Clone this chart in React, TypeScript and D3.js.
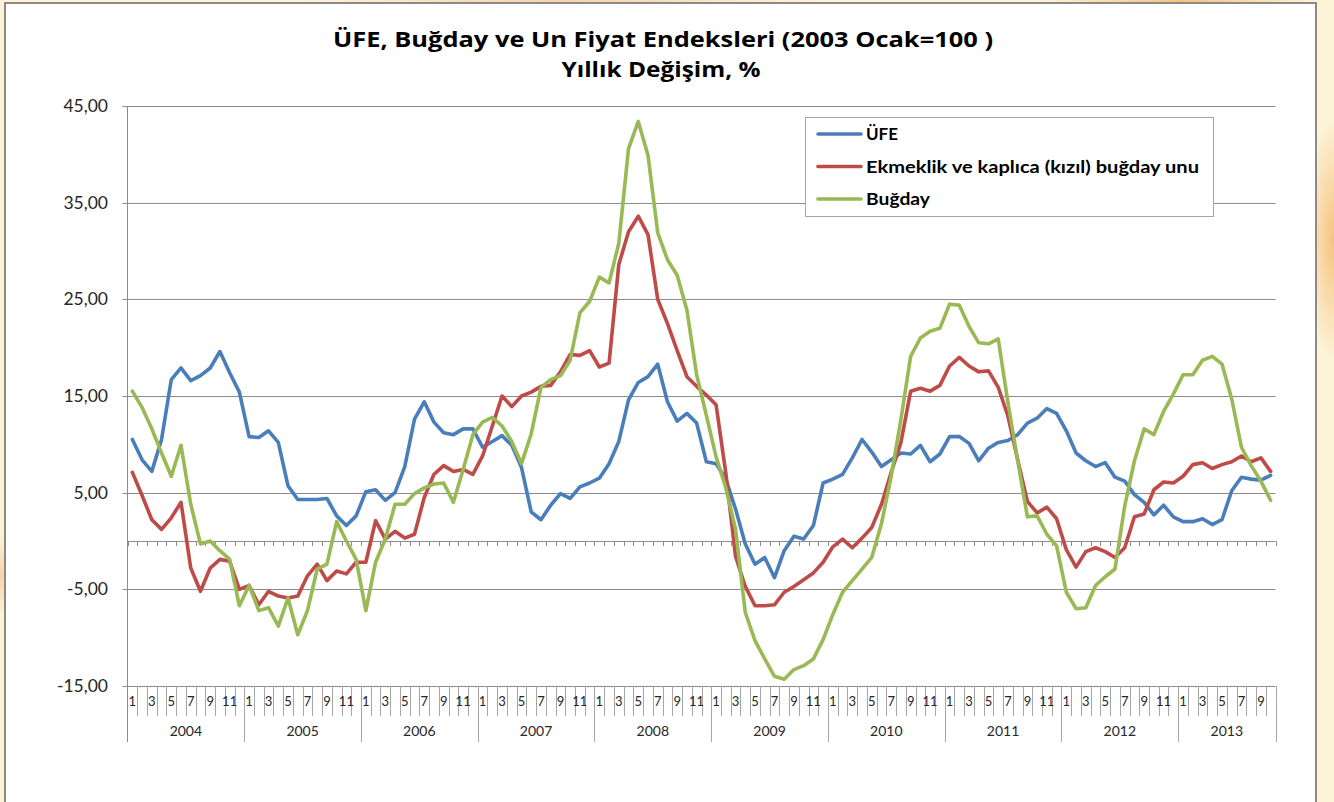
import React from 'react';
import * as d3 from 'd3';

// Yıllık değişim (%), 2004 Ocak - 2013 Ekim
const yearLabels = ['2004', '2005', '2006', '2007', '2008', '2009', '2010', '2011', '2012', '2013'];
const monthLabels = ['1', '', '3', '', '5', '', '7', '', '9', '', '11', ''];
const yTicks = [45, 35, 25, 15, 5, -5, -15];

const ufe = [
  10.5, 8.4, 7.2, 10.5, 16.7, 17.9, 16.6, 17.1, 17.9, 19.6, 17.4, 15.4,
  10.8, 10.7, 11.4, 10.2, 5.7, 4.3, 4.3, 4.3, 4.4, 2.6, 1.6, 2.6,
  5.1, 5.3, 4.2, 5.0, 7.7, 12.6, 14.4, 12.3, 11.2, 11.0, 11.6, 11.6,
  9.7, 10.3, 10.9, 9.9, 7.6, 3.0, 2.2, 3.7, 4.9, 4.4, 5.6, 6.0,
  6.5, 8.0, 10.3, 14.6, 16.4, 17.0, 18.3, 14.4, 12.4, 13.2, 12.2, 8.2,
  8.0, 6.4, 3.3, -0.3, -2.4, -1.7, -3.8, -1.0, 0.5, 0.2, 1.6, 6.0,
  6.4, 6.9, 8.6, 10.5, 9.2, 7.7, 8.4, 9.1, 9.0, 9.9, 8.2, 9.0,
  10.8, 10.8, 10.1, 8.3, 9.6, 10.2, 10.4, 11.0, 12.2, 12.7, 13.7, 13.2,
  11.4, 9.1, 8.3, 7.7, 8.1, 6.6, 6.2, 4.8, 4.0, 2.7, 3.7, 2.5,
  2.0, 2.0, 2.3, 1.7, 2.2, 5.2, 6.6, 6.4, 6.3, 6.8,
];

const un = [
  7.1, 4.7, 2.2, 1.2, 2.4, 4.0, -2.8, -5.2, -2.8, -1.9, -2.1, -5.0,
  -4.6, -6.6, -5.2, -5.7, -5.9, -5.7, -3.6, -2.4, -4.1, -3.1, -3.4, -2.2,
  -2.2, 2.1, 0.2, 1.0, 0.3, 0.7, 4.5, 6.9, 7.8, 7.2, 7.4, 6.9,
  8.8, 11.9, 15.0, 13.9, 15.0, 15.4, 16.0, 16.1, 17.5, 19.3, 19.2, 19.7,
  18.0, 18.4, 28.6, 32.0, 33.6, 31.7, 25.0, 22.5, 19.7, 17.0, 16.0, 15.1,
  14.1, 7.0, -1.6, -4.7, -6.7, -6.7, -6.6, -5.3, -4.7, -4.0, -3.3, -2.2,
  -0.6, 0.2, -0.7, 0.3, 1.4, 3.8, 7.1, 10.2, 15.5, 15.8, 15.5, 16.1,
  18.1, 19.0, 18.1, 17.5, 17.6, 15.9, 12.9, 8.4, 4.1, 2.9, 3.5, 2.3,
  -0.9, -2.7, -1.1, -0.7, -1.1, -1.7, -0.7, 2.5, 2.8, 5.3, 6.1, 6.0,
  6.7, 7.9, 8.1, 7.5, 7.9, 8.2, 8.8, 8.2, 8.6, 7.2,
];

const bugday = [
  15.5, 13.8, 11.6, 9.1, 6.7, 9.9, 3.8, -0.3, 0.0, -1.0, -1.9, -6.7,
  -4.6, -7.2, -6.9, -8.8, -5.9, -9.7, -7.2, -2.9, -2.4, 2.0, 0.0, -1.9,
  -7.2, -2.2, 0.2, 3.8, 3.8, 4.9, 5.5, 5.9, 6.0, 4.0, 7.4, 11.0,
  12.3, 12.8, 11.9, 10.3, 8.0, 11.1, 15.9, 16.7, 17.1, 18.7, 23.6, 24.8,
  27.3, 26.7, 30.8, 40.6, 43.4, 39.9, 31.9, 29.1, 27.5, 23.9, 17.2, 13.0,
  8.7, 5.5, 1.2, -7.4, -10.3, -12.2, -14.0, -14.3, -13.3, -12.9, -12.2, -10.2,
  -7.6, -5.3, -4.1, -2.9, -1.7, 1.8, 6.7, 12.6, 19.1, 21.0, 21.7, 22.0,
  24.5, 24.4, 22.2, 20.5, 20.4, 20.9, 14.3, 8.3, 2.5, 2.6, 0.7, -0.5,
  -5.3, -7.0, -6.9, -4.6, -3.7, -2.9, 3.6, 8.3, 11.6, 11.0, 13.4, 15.2,
  17.2, 17.2, 18.7, 19.1, 18.3, 14.7, 9.7, 7.8, 6.2, 4.2,
];

const seriesNames = ['ÜFE', 'Ekmeklik ve kaplıca (kızıl) buğday unu', 'Buğday'];
const seriesColors = ['#4A7EBB', '#BE4B48', '#98B954'];
const seriesData = [ufe, un, bugday];

const fmt = d3.formatLocale({
  decimal: ',', thousands: '.', grouping: [3], currency: ['', ''], minus: '-',
}).format('.2f');

const FONT = 'Lato, "Open Sans", sans-serif';
const TITLE_FONT = '"Open Sans", Lato, sans-serif';

export default function App() {
  const W = 1334;
  const H = 802;
  const left = 127.5;
  const right = 1275.5;
  const n = ufe.length;

  const periods = yearLabels
    .flatMap(yr => monthLabels.map((m, k) => ({ year: yr, month: k, label: m })))
    .slice(0, n);

  const x = d3.scaleBand<number>().domain(d3.range(n)).range([left, right]);
  const bw = x.bandwidth();
  const cx = (i: number) => (x(i) as number) + bw / 2;
  const y = d3.scaleLinear().domain([-15, 45]).range([686, 106]);

  const line = d3.line<number>().x((_, i) => cx(i)).y(d => y(d));

  const axisY = 686;
  const monthRowBottom = 716;
  const yearRowBottom = 742;
  const legendWidths = [32, 333, 64];

  return (
    <svg width={W} height={H} style={{ position: 'absolute', left: 0, top: 0 }}>
      <defs>
        <radialGradient id="glow1" cx="50%" cy="50%" r="50%">
          <stop offset="0%" stopColor="#f4bd76" stopOpacity={0.9} />
          <stop offset="100%" stopColor="#f4bd76" stopOpacity={0} />
        </radialGradient>
        <radialGradient id="glow2" cx="50%" cy="50%" r="50%">
          <stop offset="0%" stopColor="#f6cfa6" stopOpacity={0.9} />
          <stop offset="100%" stopColor="#f6cfa6" stopOpacity={0} />
        </radialGradient>
      </defs>
      <rect width={W} height={H} fill="#fdf3d6" />
      <ellipse cx={1180} cy={0} rx={140} ry={40} fill="url(#glow1)" />
      <ellipse cx={560} cy={0} rx={260} ry={30} fill="url(#glow2)" />
      <ellipse cx={0} cy={575} rx={30} ry={40} fill="url(#glow2)" />
      <ellipse cx={1334} cy={240} rx={30} ry={120} fill="url(#glow1)" />

      <rect x={5} y={3} width={1311} height={820} fill="#fff" stroke="#8a8a8a" strokeWidth={2} />

      {/* title */}
      <text x={663} y={47} textAnchor="middle" fontFamily={TITLE_FONT} fontWeight={700} fontSize={21} fill="#000"
        textLength={660} lengthAdjust="spacingAndGlyphs">
        ÜFE, Buğday ve Un Fiyat Endeksleri (2003 Ocak=100 )
      </text>
      <text x={661} y={77} textAnchor="middle" fontFamily={TITLE_FONT} fontWeight={700} fontSize={21} fill="#000"
        textLength={199} lengthAdjust="spacingAndGlyphs">
        Yıllık Değişim, %
      </text>

      {/* gridlines + y labels */}
      {yTicks.map(t => (
        <g key={t}>
          <line x1={left - 5} x2={right} y1={Math.round(y(t)) + 0.5} y2={Math.round(y(t)) + 0.5} stroke="#8c8c8c" strokeWidth={1} />
          <text x={108} y={y(t)} dy="0.35em" textAnchor="end" fontFamily={FONT} fontSize={17.5} fill="#262626">
            {fmt(t)}
          </text>
        </g>
      ))}

      {/* zero (category) axis with month ticks */}
      <line x1={left} x2={right} y1={Math.round(y(0)) + 0.5} y2={Math.round(y(0)) + 0.5} stroke="#8c8c8c" strokeWidth={1} />
      {d3.range(n + 1).map(i => {
        const xx = Math.round(left + i * bw) + 0.5;
        return <line key={'zt' + i} x1={xx} x2={xx} y1={y(0)} y2={y(0) + 5} stroke="#8c8c8c" strokeWidth={1} />;
      })}

      {/* y axis */}
      <line x1={left} x2={left} y1={106} y2={yearRowBottom} stroke="#8c8c8c" strokeWidth={1} />

      {/* month label row */}
      {periods.map((p, i) => {
        const xx = Math.round(left + (i + 1) * bw) + 0.5;
        const endOfYear = p.month === 11 || i === n - 1;
        return (
          <g key={'m' + i}>
            <line x1={xx} x2={xx} y1={axisY} y2={endOfYear ? yearRowBottom : monthRowBottom} stroke="#a6a6a6" strokeWidth={1} />
            {p.label && (
              <text x={cx(i)} y={706} textAnchor="middle" fontFamily={FONT} fontSize={13} fill="#262626">
                {p.label}
              </text>
            )}
          </g>
        );
      })}

      {/* year label row */}
      {yearLabels.map(yr => {
        const idx = periods.map((p, i) => (p.year === yr ? i : -1)).filter(i => i >= 0);
        const x0 = left + idx[0] * bw;
        const x1 = left + (idx[idx.length - 1] + 1) * bw;
        return (
          <text key={yr} x={(x0 + x1) / 2} y={736} textAnchor="middle" fontFamily={FONT} fontSize={14} fill="#262626">
            {yr}
          </text>
        );
      })}

      {/* series */}
      {seriesData.map((d, s) => (
        <path key={seriesNames[s]} d={line(d) || ''} fill="none" stroke={seriesColors[s]} strokeWidth={3.6}
          strokeLinejoin="round" strokeLinecap="round" />
      ))}

      {/* legend */}
      <rect x={805.5} y={117.5} width={408} height={99} fill="#fff" stroke="#a6a6a6" strokeWidth={1} />
      {seriesNames.map((name, s) => {
        const ly = 134 + s * 32.5;
        return (
          <g key={'lg' + s}>
            <line x1={818} x2={861} y1={ly} y2={ly} stroke={seriesColors[s]} strokeWidth={3.6} strokeLinecap="round" />
            <text x={866} y={ly} dy="0.35em" fontFamily={FONT} fontWeight={700} fontSize={17.5} fill="#000"
              textLength={legendWidths[s]} lengthAdjust="spacingAndGlyphs">
              {name}
            </text>
          </g>
        );
      })}
    </svg>
  );
}
